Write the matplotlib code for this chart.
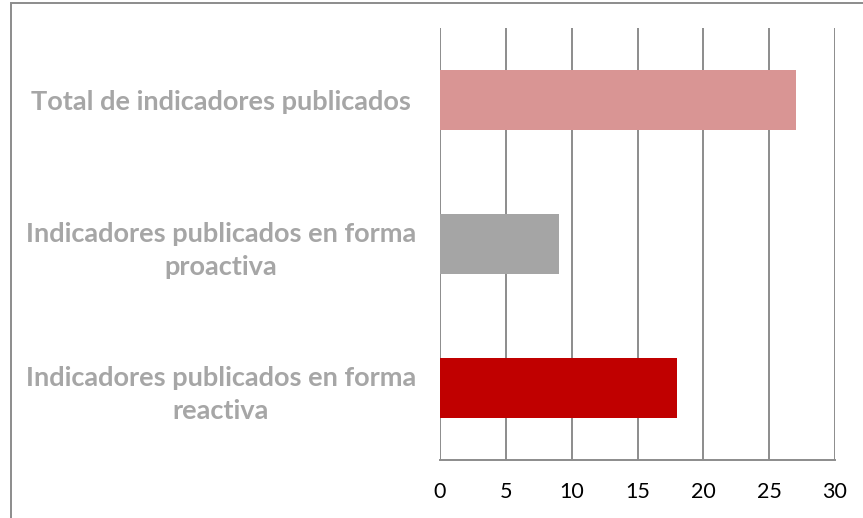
import matplotlib.pyplot as plt
from matplotlib.patches import Rectangle

categories = ['Indicadores publicados en forma\nreactiva',
              'Indicadores publicados en forma\nproactiva',
              'Total de indicadores publicados']
values = [18, 9, 27]
colors = ['#C00000', '#A5A5A5', '#D99594']
ticks = [0, 5, 10, 15, 20, 25, 30]

plt.rcParams['font.family'] = ['Lato', 'DejaVu Sans']

fig = plt.figure(figsize=(8.63, 5.18), dpi=100)
ax = fig.add_axes([440 / 863, 1 - 460 / 518, 395 / 863, 432 / 518])

ax.barh(range(len(values)), values, height=0.42, color=colors, zorder=3)
ax.set_xlim(0, 30)
ax.set_ylim(-0.5, 2.5)
ax.set_xticks(ticks)
ax.set_xticklabels([str(t) for t in ticks], fontsize=15.5, color='black')
ax.tick_params(axis='x', length=0, pad=16)
ax.tick_params(axis='y', length=0, pad=0)
ax.set_yticks(range(len(categories)))
ax.set_yticklabels(categories, fontsize=19.5, fontweight='bold', color='#A6A6A6',
                   ha='center', linespacing=1.45)
for lbl in ax.get_yticklabels():
    lbl.set_x(-0.555)

ax.grid(axis='x', color='#8C8C8C', linewidth=1.4, zorder=0)
for s in ['top', 'right', 'left']:
    ax.spines[s].set_visible(False)
ax.spines['bottom'].set_color('#8C8C8C')
ax.spines['bottom'].set_linewidth(1.4)

# chart border (only left and top are in view)
fig.patches.append(Rectangle((11 / 863, -0.1), 1.2, 1 - 3.5 / 518 + 0.1,
                             transform=fig.transFigure, fill=False,
                             edgecolor='#8C8C8C', linewidth=1.4))

fig.savefig('out.png', dpi=100)
